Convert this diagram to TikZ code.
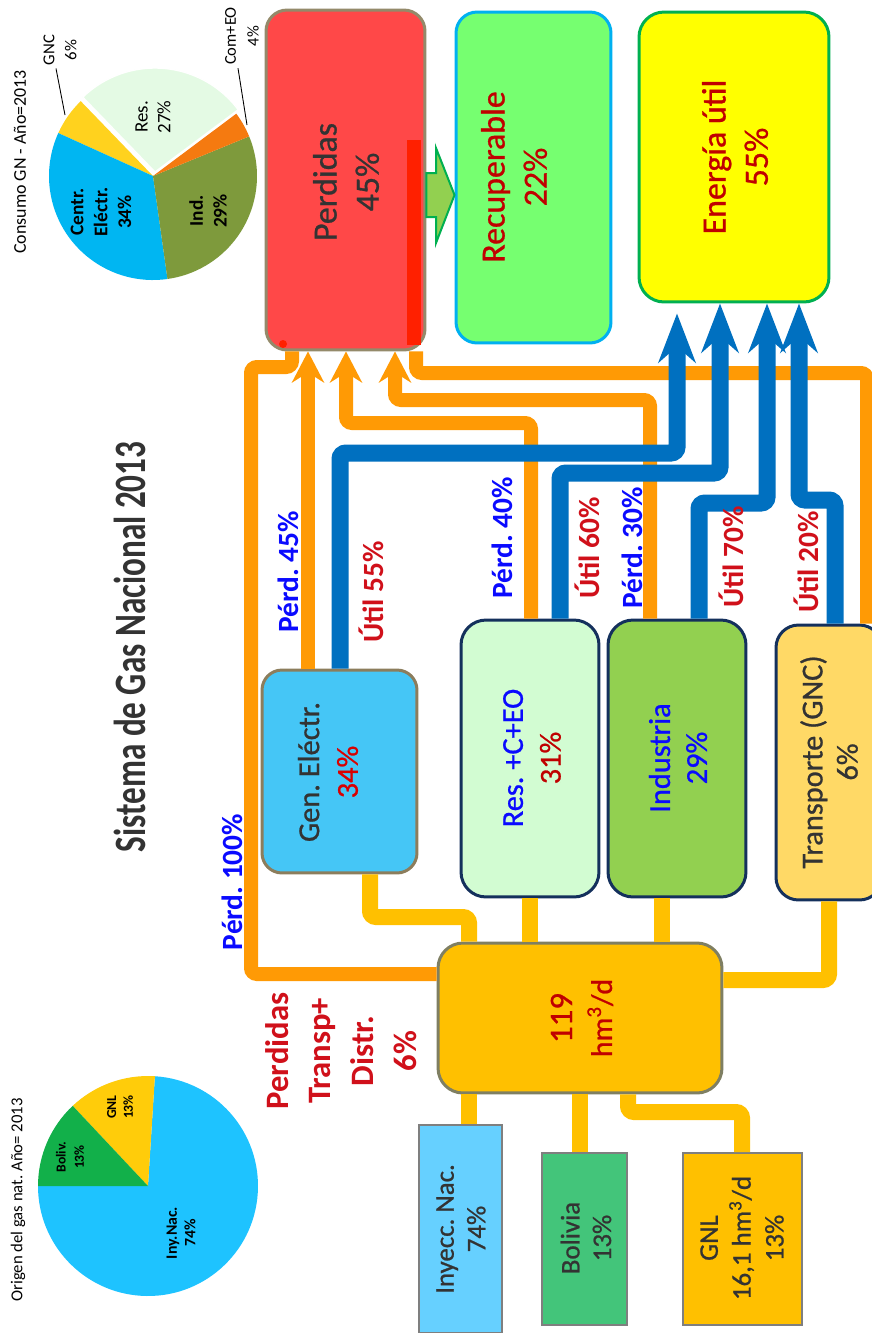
\documentclass[tikz,border=0pt]{standalone}
\usepackage{fontspec}
\setmainfont{Carlito}
\newfontfamily\titlefont{Carlito}[FakeStretch=0.74]
\newfontfamily\boxfont{Carlito}[FakeBold=0.8]
\usetikzlibrary{arrows.meta,calc}
\definecolor{lineor}{HTML}{FF9A05}
\definecolor{lineblue}{HTML}{0070C0}
\definecolor{linegold}{HTML}{FFC000}
\definecolor{txtred}{HTML}{C00000}
\definecolor{lblred}{HTML}{D0101A}
\definecolor{txtblue}{HTML}{0A0AFF}
\definecolor{txtgray}{HTML}{333333}
\definecolor{redfill}{HTML}{FF4848}
\definecolor{redbrd}{HTML}{948A6A}
\definecolor{redstrip}{HTML}{FF2000}
\definecolor{recfill}{HTML}{76FF70}
\definecolor{recbrd}{HTML}{00B0F0}
\definecolor{enfill}{HTML}{FFFF00}
\definecolor{enbrd}{HTML}{00B050}
\definecolor{genfill}{HTML}{45C6F6}
\definecolor{genbrd}{HTML}{8C7D5C}
\definecolor{navy}{HTML}{14305C}
\definecolor{resfill}{HTML}{D2FCD2}
\definecolor{indfill}{HTML}{92D050}
\definecolor{trafill}{HTML}{FFD966}
\definecolor{hubfill}{HTML}{FFC000}
\definecolor{hubbrd}{HTML}{7F7F62}
\definecolor{sqbrd}{HTML}{7F7F7F}
\definecolor{inyfill}{HTML}{66D0FF}
\definecolor{bolfill}{HTML}{43C57A}
\definecolor{gnlfill}{HTML}{FFC000}
\definecolor{garfill}{HTML}{92D050}
\definecolor{garbrd}{HTML}{00B050}
\definecolor{pres}{HTML}{E4FAE4}
\definecolor{pcom}{HTML}{F57A10}
\definecolor{pind}{HTML}{7E9A3C}
\definecolor{pcen}{HTML}{00B6F2}
\definecolor{pgnc}{HTML}{FFD21E}
\definecolor{piny}{HTML}{1EC3FF}
\definecolor{pbol}{HTML}{12B04A}
\definecolor{pgnl}{HTML}{FFCC0A}
\definecolor{titlegray}{HTML}{333333}
\frenchspacing
\begin{document}
\begin{tikzpicture}[x=0.02cm, y=-0.02cm,
  rbox/.style={draw, line width=0.06cm, rounded corners=0.42cm, inner sep=0pt},
  sqbox/.style={draw=sqbrd, line width=0.04cm, inner sep=0pt},
  btxt/.style={rotate=90, align=center, inner sep=0pt},
  lbl/.style={rotate=90, inner sep=0pt, font=\fontsize{16.7}{20}\selectfont\bfseries},
  orln/.style={draw=lineor, line width=0.28cm, rounded corners=0.12cm},
  orarr/.style={orln, -{Stealth[length=0.62cm, width=0.64cm, inset=0.2cm]}},
  blarr/.style={draw=lineblue, line width=0.34cm, rounded corners=0.12cm, -{Stealth[length=0.98cm, width=0.74cm, inset=0.32cm]}},
  gdln/.style={draw=linegold, line width=0.32cm, rounded corners=0.12cm},
  ptxt/.style={rotate=90, align=center, inner sep=0pt, text=black},
  leader/.style={draw=black, line width=0.5pt}
]
\useasboundingbox (0,0) rectangle (872,1333);
\fill[white] (0,0) rectangle (872,1333);
\clip (0,0) rectangle (872,1333);

% ---------- pie 1: consumo ----------
\begin{scope}[shift={(153,176)}]
  \fill[pgnc] (0,0) -- (204.4:104) arc[start angle=204.4, end angle=226, radius=104] -- cycle;
  \fill[pcen] (0,0) -- (82:104) arc[start angle=82, end angle=204.4, radius=104] -- cycle;
  \fill[pind] (0,0) -- (-22.4:104) arc[start angle=-22.4, end angle=82, radius=104] -- cycle;
  \fill[pcom] (0,0) -- (-36.8:104) arc[start angle=-36.8, end angle=-22.4, radius=104] -- cycle;
  \begin{scope}[shift={(2,-4)}]
    \filldraw[fill=pres, draw=white, line width=0.8pt] (0,0) -- (-134:104) arc[start angle=-134, end angle=-36.8, radius=104] -- cycle;
  \end{scope}
\end{scope}
\node[ptxt, font=\fontsize{10.2}{12}\selectfont] (ctitle) at (20,162) {Consumo GN - Año=2013};
\node[ptxt, font=\fontsize{11}{13.6}\selectfont\bfseries] (lcen) at (101,212) {Centr.\\Eléctr.\\34\%};
\node[ptxt, font=\fontsize{10.8}{13}\selectfont] (lres) at (153,117) {Res.\\27\%};
\node[ptxt, font=\fontsize{11}{13.6}\selectfont\bfseries] (lind) at (208,211) {Ind.\\29\%};
\node[ptxt, font=\fontsize{9.5}{12.5}\selectfont] (lgnc) at (60,50) {GNC\\6\%};
\node[ptxt, font=\fontsize{9.4}{13}\selectfont] (lcom) at (242,36) {Com+EO\\4\%};
\draw[leader] ($(lgnc.west)+(-4,3)$) -- (65,115);
\draw[leader] ($(lcom.west)+(-4,3)$) -- (247,125);

% ---------- pie 2: origen ----------
\begin{scope}[shift={(148,1186)}]
  \fill[piny] (0,0) -- (-86.4:110) arc[start angle=-86.4, end angle=180, radius=110] -- cycle;
  \fill[pgnl] (0,0) -- (-133.2:110) arc[start angle=-133.2, end angle=-86.4, radius=110] -- cycle;
  \fill[pbol] (0,0) -- (-180:110) arc[start angle=-180, end angle=-133.2, radius=110] -- cycle;
\end{scope}
\node[ptxt, font=\fontsize{9.5}{12}\selectfont] (otitle) at (18,1200) {Origen del gas nat. Año= 2013};
\node[ptxt, font=\fontsize{7.8}{10.5}\selectfont\bfseries] (lbol) at (70,1157) {Boliv.\\13\%};
\node[ptxt, font=\fontsize{7.8}{9.5}\selectfont\bfseries] (lgnl) at (120,1107) {GNL\\13\%};
\node[ptxt, font=\fontsize{9}{10.5}\selectfont\bfseries] (liny) at (181,1233) {Iny.Nac.\\74\%};

% ---------- title ----------
\node[rotate=90, inner sep=0pt, text=titlegray, font=\titlefont\bfseries\fontsize{25.5}{30}\selectfont] (title) at (130,647) {Sistema de Gas Nacional 2013};

% ---------- boxes ----------
\node[rbox, draw=redbrd, fill=redfill, minimum width=3.18cm, minimum height=6.8cm] (red) at (345.5,180) {};
\fill[redstrip] (407,140) rectangle (421,345);
\fill[redstrip] (283,344) circle (4);
\node[rbox, draw=recbrd, fill=recfill, minimum width=3.1cm, minimum height=6.62cm] (recup) at (533.5,177.5) {};
\node[rbox, draw=enbrd, fill=enfill, minimum width=3.8cm, minimum height=5.8cm, rounded corners=0.5cm] (energia) at (734,157) {};
\node[rbox, draw=genbrd, fill=genfill, minimum width=3.1cm, minimum height=4.06cm, rounded corners=0.4cm] (gen) at (339.5,771.5) {};
\node[rbox, draw=navy, fill=resfill, minimum width=2.76cm, minimum height=5.54cm, rounded corners=0.5cm] (res) at (530,758.5) {};
\node[rbox, draw=navy, fill=indfill, minimum width=2.76cm, minimum height=5.54cm, rounded corners=0.5cm] (ind) at (677,758.5) {};
\node[rbox, draw=navy, fill=trafill, minimum width=2.12cm, minimum height=5.5cm, rounded corners=0.45cm] (trans) at (829,762.5) {};
\node[rbox, draw=hubbrd, fill=hubfill, minimum width=5.68cm, minimum height=3.0cm, rounded corners=0.5cm] (hub) at (580,1018) {};
\node[sqbox, fill=inyfill, minimum width=1.66cm, minimum height=4.16cm] (iny) at (460.5,1229) {};
\node[sqbox, fill=bolfill, minimum width=1.7cm, minimum height=3.44cm] (bol) at (584.5,1239) {};
\node[sqbox, fill=gnlfill, minimum width=2.38cm, minimum height=3.44cm] (gnl) at (742.5,1239) {};

% ---------- green arrow ----------
\filldraw[fill=garfill, draw=garbrd, line width=0.04cm, line join=miter]
  (red.east |- 0,173) -- (436,173) -- (436,148) -- (recup.west |- 0,195) -- (436,243) -- (436,217) -- (red.east |- 0,217) -- cycle;

% ---------- gold input lines ----------
\draw[gdln] (gen.south -| 370,0) -- (370,917) -- (469,917) -- (hub.north -| 469,0);
\draw[gdln] (res.south -| 530,0) -- (hub.north -| 530,0);
\draw[gdln] (ind.south -| 662,0) -- (hub.north -| 662,0);
\draw[gdln] (trans.south -| 829,0) -- (829,980) -- (hub.east |- 0,980);
\draw[gdln] (hub.south -| 469,0) -- (iny.north -| 469,0);
\draw[gdln] (hub.south -| 580,0) -- (bol.north -| 580,0);
\draw[gdln] (hub.south -| 628,0) -- (628,1112) -- (742,1112) -- (gnl.north -| 742,0);

% ---------- orange loss lines ----------
\draw[orln] (hub.west |- 0,974) -- (251,974) -- (251,367) -- (292,367) -- (red.south -| 292,0);
\draw[orln] (trans.north -| 867,0) -- (867,373) -- (416,373) -- (red.south -| 416,0);
\draw[orarr] (gen.north -| 308,0) -- (red.south -| 308,0);
\draw[orarr] (res.north -| 531,0) -- (531,423) -- (346,423) -- (red.south -| 346,0);
\draw[orarr] (ind.north -| 650,0) -- (650,400) -- (395,400) -- (red.south -| 395,0);

% ---------- blue useful lines ----------
\draw[blarr] (gen.north -| 340,0) -- (340,453) -- (677,453) -- ($(energia.south -| 677,0)+(0,10)$);
\draw[blarr] (res.north -| 560,0) -- (560,473) -- (720,473) -- (energia.south -| 720,0);
\draw[blarr] (ind.north -| 699,0) -- (699,503) -- (767,503) -- (energia.south -| 767,0);
\draw[blarr] (trans.north -| 835,0) -- (835,500) -- (799,500) -- (energia.south -| 799,0);

% ---------- box texts ----------
\node[btxt, text=txtgray, font=\boxfont\fontsize{19.3}{24}\selectfont] (redtxt) at (346,182) {Perdidas\\45\%};
\node[btxt, text=txtred, font=\boxfont\fontsize{19.3}{24}\selectfont] (rectxt) at (514,177) {Recuperable\\22\%};
\node[btxt, text=txtred, font=\boxfont\fontsize{19.3}{24}\selectfont] (entxt) at (735,157) {Energía útil\\55\%};
\node[btxt, text=txtgray, font=\boxfont\fontsize{17.3}{22}\selectfont] (gentxt) at (328,772) {Gen. Eléctr.\\\textcolor{red!85!black}{34\%}};
\node[btxt, text=txtblue, font=\boxfont\fontsize{17.3}{21.5}\selectfont] (restxt) at (532,758) {Res. +C+EO\\\textcolor{txtred}{31\%}};
\node[btxt, text=txtblue, font=\boxfont\fontsize{17.3}{21}\selectfont] (indtxt) at (678,758) {Industria\\29\%};
\node[btxt, text=txtgray, font=\boxfont\fontsize{17.3}{20}\selectfont] (tratxt) at (829,762) {Transporte (GNC)\\6\%};
\node[btxt, text=txtred, font=\boxfont\fontsize{18.7}{22.7}\selectfont] (hubtxt) at (582,1018) {119\\{\fontsize{17}{20}\selectfont hm\textsuperscript{3}/d}};
\node[btxt, text=txtgray, font=\boxfont\fontsize{15.3}{18}\selectfont] (inytxt) at (461,1229) {Inyecc. Nac.\\74\%};
\node[btxt, text=txtgray, font=\boxfont\fontsize{15.3}{18}\selectfont] (boltxt) at (586,1238) {Bolivia\\13\%};
\node[btxt, text=txtgray, font=\boxfont\fontsize{15.3}{18.7}\selectfont] (gnltxt) at (742,1238) {GNL\\16,1 hm\textsuperscript{3}/d\\13\%};

% ---------- flow labels ----------
\node[lbl, text=txtblue] (pe100) at (232,882) {Pérd. 100\%};
\node[lbl, text=txtblue] (pe45) at (288,572) {Pérd. 45\%};
\node[lbl, text=lblred] (ut55) at (371,592) {Útil 55\%};
\node[lbl, text=txtblue] (pe40) at (502,538) {Pérd. 40\%};
\node[lbl, text=lblred] (ut60) at (587,548) {Útil 60\%};
\node[lbl, text=txtblue] (pe30) at (632,548) {Pérd. 30\%};
\node[lbl, text=lblred] (ut70) at (731,557) {Útil 70\%};
\node[lbl, text=lblred] (ut20) at (806,562) {Útil 20\%};
\node[btxt, text=lblred, font=\fontsize{18.6}{24.4}\selectfont\bfseries] (ptd) at (341,1051) {Perdidas\\Transp+\\Distr.\\6\%};
\end{tikzpicture}
\end{document}
